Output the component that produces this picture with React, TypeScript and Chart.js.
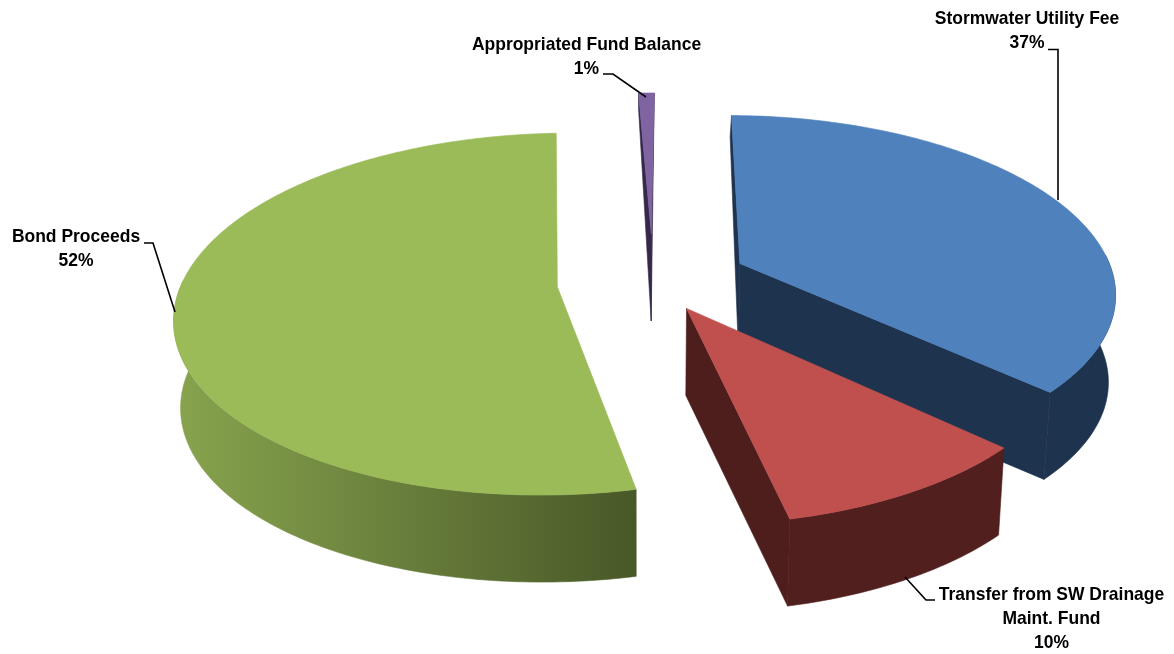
import React, { useEffect, useRef } from "react";
import { Chart, registerables } from "chart.js";

Chart.register(...registerables);

const categories = ["Stormwater Utility Fee", "Transfer from SW Drainage Maint. Fund", "Bond Proceeds", "Appropriated Fund Balance"];
const shares = [36.8, 9.6, 52.8, 0.8];
const percentLabels = ["37%", "10%", "52%", "1%"];
const explode = [96, 66, 96, 105];
const topColors = ["#4F81BD", "#C0504D", "#9BBB59", "#8064A2"];
const wallStart = ["#1F3552", "#58221F", "#88A44E", "#35284A"];
const wallEnd = ["#1E334E", "#4E1E1D", "#485828", "#35284A"];
const paintOrder = [3, 0, 2, 1];
const labelLines = [["Stormwater Utility Fee"], ["Transfer from SW Drainage", "Maint. Fund"], ["Bond Proceeds"], ["Appropriated Fund Balance"]];
const labelAnchors = [[1027, 24], [1051.5, 600], [76, 242], [586.5, 50]];
const leaders = [
  [[1048, 49.5], [1058, 49.5], [1058, 200]],
  [[935, 600], [926, 600], [905, 577]],
  [[144, 243], [153, 243], [175, 312]],
  [[603, 74], [613, 74], [646, 97]],
];

const TILT = 0.467;
const PERSPECTIVE = 0.15;
const DEPTH = 87;
const TAPER = 0.985;
const TAPER_X = 640;
const FONT_SIZE = 19;
const TEXT_SQUEEZE = 0.92;
const LINE_PITCH = 24;

const threeDPie = {
  id: "threeDPie",
  beforeDatasetsDraw(chart: any) {
    const { ctx } = chart;
    const arcs = chart.getDatasetMeta(0).data;
    const cx = arcs[0].x;
    const cy = arcs[0].y;
    const R = arcs[0].outerRadius;

    const project = (px: number, py: number, low: boolean) => {
      const w = 1 - (PERSPECTIVE * py) / R;
      const sx = cx + px / w;
      const sy = cy + (TILT * py) / w;
      if (!low) return [sx, sy];
      const d = Math.min(DEPTH, Math.max(15, DEPTH + (py + 150) * 0.25));
      return [TAPER_X + (sx - TAPER_X) * TAPER, sy + d];
    };
    const poly = (pts: number[][], fill: any) => {
      ctx.beginPath();
      pts.forEach((p, i) => (i ? ctx.lineTo(p[0], p[1]) : ctx.moveTo(p[0], p[1])));
      ctx.closePath();
      ctx.fillStyle = fill;
      ctx.fill();
      ctx.strokeStyle = fill;
      ctx.lineWidth = 0.6;
      ctx.stroke();
    };
    // a cut face shows only when the slice lies on the far side of its top edge
    const faces = (apex: number[], end: number[], inner: number[]) => {
      const ex = end[0] - apex[0];
      const ey = end[1] - apex[1];
      return ex * (inner[1] - apex[1]) - ey * (inner[0] - apex[0]) < 0 !== ex < 0;
    };

    paintOrder.forEach((i) => {
      const el = arcs[i];
      const off = el.options.offset;
      const mid = (el.startAngle + el.endAngle) / 2;
      const ox = off * Math.cos(mid);
      const oy = off * Math.sin(mid);
      const steps = Math.max(4, Math.ceil(((el.endAngle - el.startAngle) * 180) / Math.PI));
      const rim: number[][] = [];
      const front: number[][] = [];
      for (let s = 0; s <= steps; s++) {
        const a = el.startAngle + ((el.endAngle - el.startAngle) * s) / steps;
        const p = [ox + el.outerRadius * Math.cos(a), oy + el.outerRadius * Math.sin(a)];
        rim.push(p);
        if (Math.sin(a) > -0.05) front.push(p);
      }
      const topRim = rim.map((p) => project(p[0], p[1], false));
      const lowRim = rim.map((p) => project(p[0], p[1], true));
      const apexTop = project(ox, oy, false);
      const apexLow = project(ox, oy, true);
      const inner = topRim[Math.floor(steps / 2)];

      if (faces(apexTop, topRim[0], inner)) poly([apexTop, topRim[0], lowRim[0], apexLow], wallEnd[i]);
      if (faces(apexTop, topRim[steps], inner)) poly([apexTop, topRim[steps], lowRim[steps], apexLow], wallEnd[i]);
      if (front.length > 1) {
        const frontTop = front.map((p) => project(p[0], p[1], false));
        const frontLow = front.map((p) => project(p[0], p[1], true));
        const xs = frontTop.map((p) => p[0]);
        const grad = ctx.createLinearGradient(Math.min(...xs), 0, Math.max(...xs), 0);
        grad.addColorStop(0, wallStart[i]);
        grad.addColorStop(1, wallEnd[i]);
        poly([...frontTop, ...frontLow.slice().reverse()], i === 2 ? grad : i === 1 ? "#501F1E" : wallEnd[i]);
      }
      poly([apexTop, ...topRim], topColors[i]);
    });

    ctx.strokeStyle = "#000";
    ctx.lineWidth = 1.6;
    leaders.forEach((l) => {
      ctx.beginPath();
      l.forEach((p, k) => (k ? ctx.lineTo(p[0], p[1]) : ctx.moveTo(p[0], p[1])));
      ctx.stroke();
    });

    ctx.fillStyle = "#000";
    ctx.font = `bold ${FONT_SIZE}px "Liberation Sans"`;
    ctx.textAlign = "center";
    ctx.textBaseline = "alphabetic";
    labelLines.forEach((lines, i) => {
      [...lines, percentLabels[i]].forEach((t, k) => {
        ctx.save();
        ctx.translate(labelAnchors[i][0], labelAnchors[i][1] + k * LINE_PITCH);
        ctx.scale(TEXT_SQUEEZE, 1);
        ctx.fillText(t, 0, 0);
        ctx.restore();
      });
    });
    return false;
  },
};

export default function App() {
  const ref = useRef<HTMLCanvasElement>(null);
  useEffect(() => {
    const chart = new Chart(ref.current as HTMLCanvasElement, {
      type: "pie",
      data: {
        labels: categories,
        datasets: [{ data: shares, backgroundColor: topColors, offset: explode, borderWidth: 0 } as any],
      },
      options: {
        responsive: false,
        animation: false,
        radius: 375,
        rotation: 0.5,
        layout: { padding: { left: 132, right: 0, top: 0, bottom: 92 } },
        plugins: { legend: { display: false }, tooltip: { enabled: false } },
      } as any,
      plugins: [threeDPie],
    });
    return () => chart.destroy();
  }, []);
  return (
    <div style={{ position: "fixed", left: 0, top: 0, width: 1174, height: 654, background: "#fff" }}>
      <canvas ref={ref} width={1174} height={654} style={{ display: "block" }} />
    </div>
  );
}
